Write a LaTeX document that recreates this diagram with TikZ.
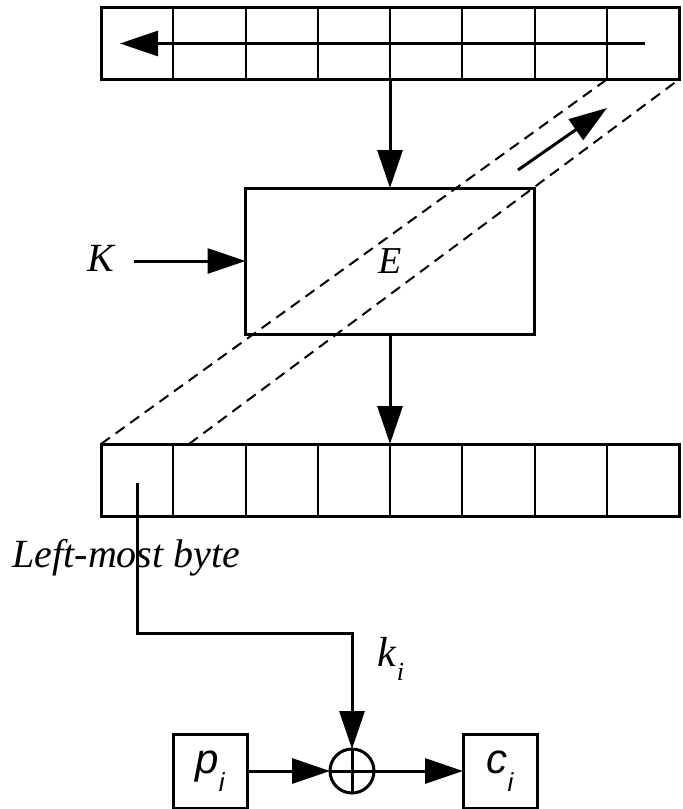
\documentclass[tikz,border=0pt]{standalone}
\usepackage{fontspec}
\setmainfont{Liberation Serif}
\newfontfamily\sansit{Liberation Sans}
\usetikzlibrary{arrows.meta,positioning}

\newcommand{\lowsub}[3]{\raisebox{#2}{\fontsize{#3}{#3}\selectfont #1}}

\begin{document}
\begin{tikzpicture}[x=0.5pt,y=-0.5pt,line width=1.5pt,
    >={Triangle[length=19pt,width=12.5pt]},
    cell/.style={draw,line width=1pt,minimum width=36.125pt,minimum height=36pt,inner sep=0pt,outer sep=0pt},
    box/.style={draw,inner sep=0pt,outer sep=0pt}]
  \useasboundingbox (0,0) rectangle (682,809);
  % shift register and output register
  \foreach \i in {0,...,7} {
    \node[cell] (t\i) at ({137.125+72.25*\i},43.5) {};
    \node[cell] (b\i) at ({137.125+72.25*\i},480) {};
  }
  \draw (t0.north west) rectangle (t7.south east);
  \draw (b0.north west) rectangle (b7.south east);
  \coordinate (r1) at (645,43.5);
  \coordinate (r2) at (120,43.5);
  \draw[->] (r1) -- (r2);
  % encryption
  \node[box,minimum width=144.5pt,minimum height=73pt] (E) at (390,261)
    {\fontsize{19}{22}\selectfont\textit{E}};
  \node (K) at (102,258) {\fontsize{20}{24}\selectfont\textit{K}};
  \draw[->] (t3.south east) -- (E.north);
  \draw[->] (E.south) -- (b3.north east);
  \draw[->,shorten <=5pt] (K.east |- E.west) -- (E.west);
  % feedback
  \coordinate (d2) at (189,444);
  \draw[line width=1pt,dash pattern=on 5.5pt off 3.5pt] (b0.north west) -- (t7.south west);
  \draw[line width=1pt,dash pattern=on 5.5pt off 3.5pt] (d2) -- (t7.south east);
  \coordinate (s1) at (518,170);
  \coordinate (s2) at (607,108);
  \draw[->] (s1) -- (s2);
  % key byte
  \node[anchor=base west,inner sep=0pt] (lmb) at (11,567)
    {\fontsize{20}{24}\selectfont\textit{Left-most byte}};
  \coordinate (kb) at (137,483);
  \coordinate (kc) at (352,633);
  \node[box,circle,minimum size=22pt] (xor) at (352,771) {};
  \draw (xor.north) -- (xor.south) (xor.west) -- (xor.east);
  \draw[->] (kb) |- (kc) -- (xor.north);
  \node[anchor=base west,inner sep=0pt] (ki) at (376,666)
    {\fontsize{21}{24}\selectfont\textit{k}\lowsub{\textit{i}}{-7pt}{13pt}};
  % plaintext and ciphertext
  \node[box,minimum size=37pt] (p) at (210,771)
    {\fontsize{21}{24}\selectfont\sansit\itshape p\lowsub{i}{-9pt}{13pt}};
  \node[box,minimum size=37pt] (c) at (500,771)
    {\fontsize{21}{24}\selectfont\sansit\itshape c\lowsub{i}{-9pt}{13pt}};
  \draw[->] (p.east) -- (xor.west);
  \draw[->] (xor.east) -- (c.west);
\end{tikzpicture}
\end{document}
